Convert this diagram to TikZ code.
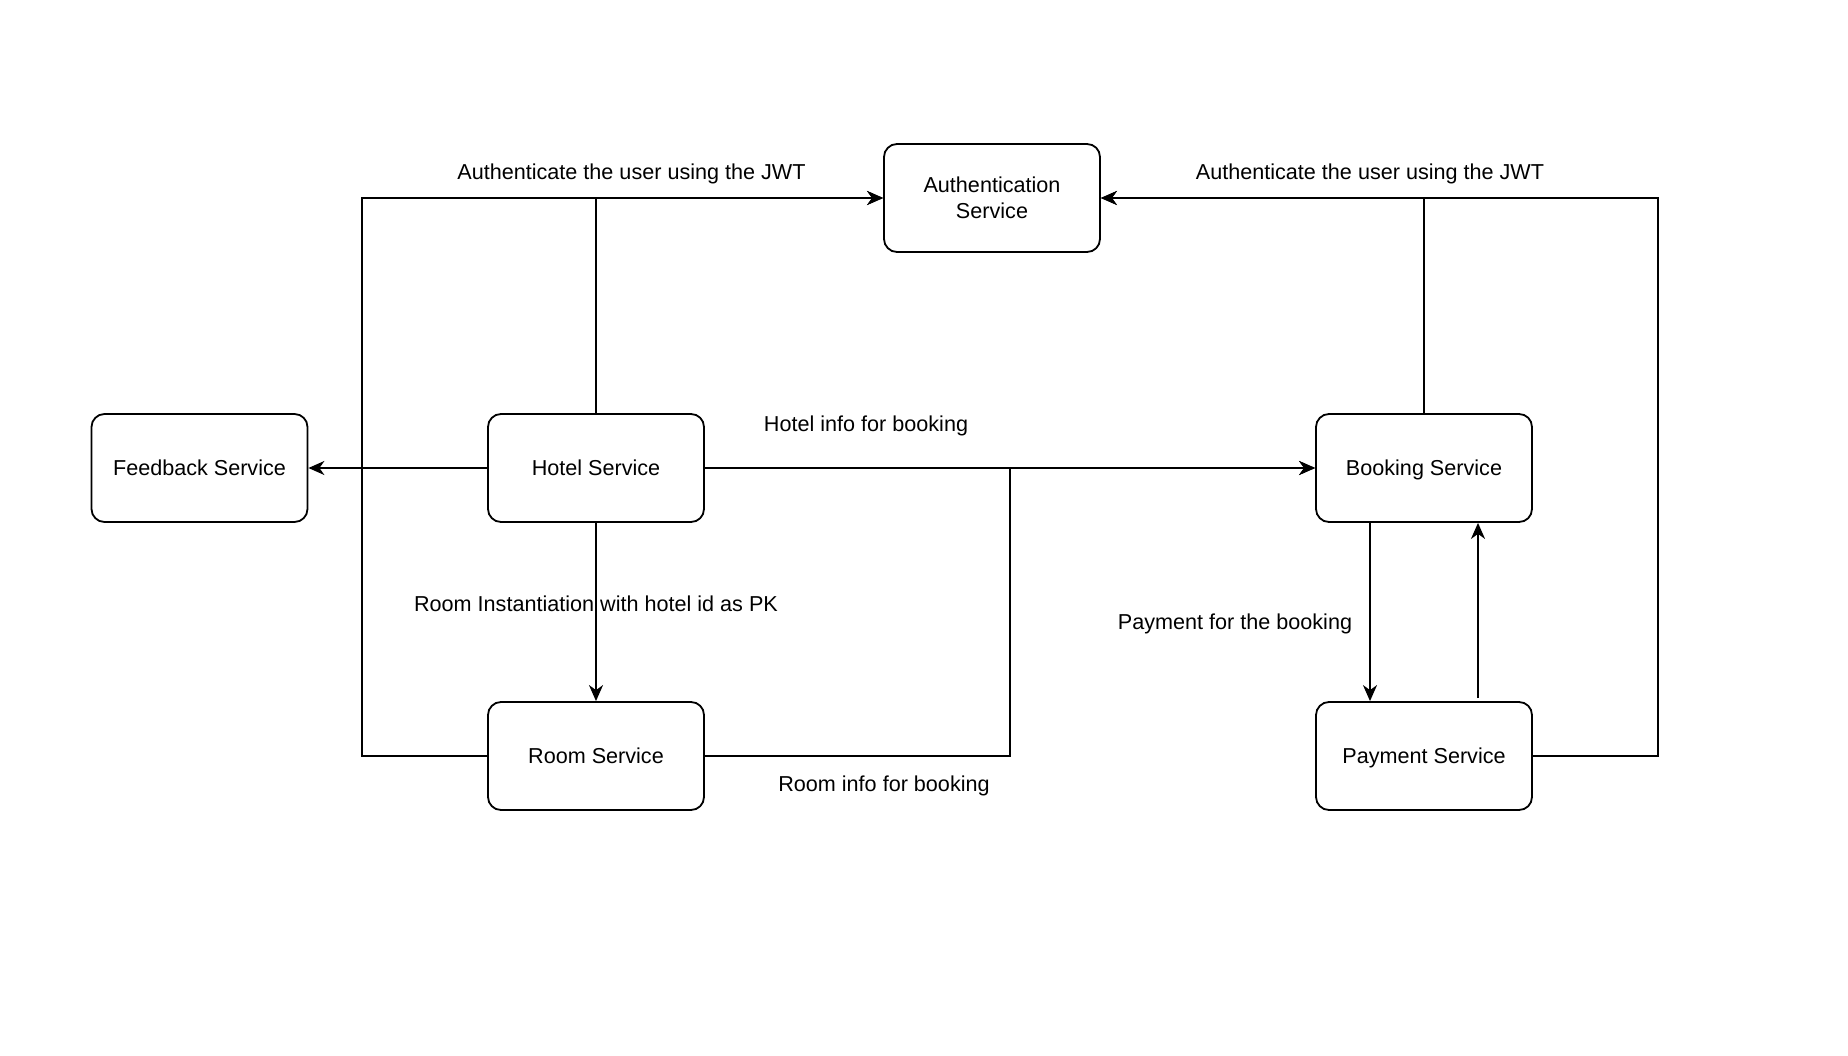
\documentclass[tikz,border=0pt]{standalone}
\usepackage{fontspec}
\setmainfont{Liberation Sans}
\usetikzlibrary{arrows.meta}
\tikzset{
  svc/.style={draw=black, line width=1.8pt, rounded corners=13pt, minimum width=216pt, minimum height=108pt, inner sep=0pt, align=center, font=\fontsize{21.6}{26}\selectfont, text height=15.8pt, text depth=0pt},
  lbl/.style={inner sep=0pt, font=\fontsize{21.6}{26}\selectfont, text height=15.8pt, text depth=0pt},
  conn/.style={draw=black, line width=1.8pt},
  arr/.style={conn, -{Stealth[length=16pt, width=14pt, inset=5pt]}}
}
\begin{document}
\begin{tikzpicture}[x=1pt, y=-1pt]
\useasboundingbox (0,0) rectangle (1848,1056);
\fill[white] (0,0) rectangle (1848,1056);
% nodes
\node[svc, text height=41.8pt] (auth) at (992,198) {Authentication\\Service};
\node[svc] (feedback) at (199.5,468) {Feedback Service};
\node[svc] (hotel) at (596,468) {Hotel Service};
\node[svc] (booking) at (1424,468) {Booking Service};
\node[svc] (room) at (596,756) {Room Service};
\node[svc] (payment) at (1424,756) {Payment Service};
% bend points
\coordinate (lefttop) at (362,198);
\coordinate (midrow) at (1010,468);
\coordinate (righttop) at (1658,198);
% connectors
\draw[arr] (room.west) -| (lefttop) -- (auth.west);
\draw[arr] (hotel.north) |- (auth.west);
\draw[arr] (hotel.west) -- (feedback.east);
\draw[arr] (hotel.east) -- (booking.west);
\draw[arr] (room.east) -| (midrow) -- (booking.west);
\draw[arr] (hotel.south) -- (room.north);
\draw[arr] (payment.east) -| (righttop) -- (auth.east);
\draw[arr] (booking.north) |- (auth.east);
\draw[arr] ([xshift=-54pt]booking.south) -- ([xshift=-54pt]payment.north);
\draw[arr] ([xshift=54pt,yshift=3pt]payment.north) -- ([xshift=54pt]booking.south);
% labels
\node[lbl] (l1) at (631.5,172) {Authenticate the user using the JWT};
\node[lbl] (l2) at (1370,172) {Authenticate the user using the JWT};
\node[lbl] (l3) at (866,424) {Hotel info for booking};
\node[lbl] (l4) at (596,604) {Room Instantiation with hotel id as PK};
\node[lbl] (l5) at (1235,622) {Payment for the booking};
\node[lbl] (l6) at (884,784) {Room info for booking};
\end{tikzpicture}
\end{document}
